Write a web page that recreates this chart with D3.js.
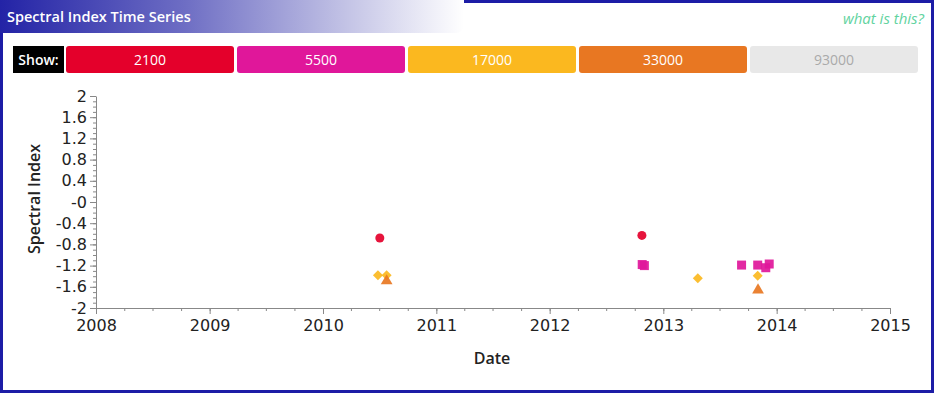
<!DOCTYPE html>
<html lang="en">
<head>
<meta charset="utf-8">
<title>Spectral Index Time Series</title>
<style>
  html, body { margin: 0; padding: 0; background: #fff; }
  body { width: 934px; height: 393px; position: relative; overflow: hidden; font-family: "Open Sans", "Lato", sans-serif; }
  .frame { position: absolute; left: 0; top: 0; width: 928px; height: 387px; border: 3px solid #1c1ca6; }
  .title { position: absolute; left: 0; top: 0; width: 464px; height: 33px;
    background: linear-gradient(to right, #2323a6 0%, #6e6ec4 40%, #c4c4e6 75%, #ffffff 100%);
    border-bottom-right-radius: 8px; color: #fff; font-weight: 600; font-size: 14.5px; line-height: 33px; padding-left: 7px; box-sizing: border-box; }
  .what { position: absolute; right: 10px; top: 8px; font-size: 15px; font-style: italic; color: #62d3a0; }
  .show { position: absolute; left: 13px; top: 46px; height: 27px; width: 51px; background: #000; color: #fff; font-weight: 600; font-size: 14px; line-height: 27px; text-align: center; }
  .btn { position: absolute; top: 46px; height: 27px; width: 168px; border-radius: 3px; color: #fff; font-size: 14px; line-height: 27px; text-align: center; }
  svg { position: absolute; left: 0; top: 0; }
  .axis path, .axis line { stroke: #888; }
  .label { font-family: "Open Sans", sans-serif; font-weight: 600; font-size: 16px; fill: #222; }
</style>
</head>
<body>
<div class="frame"></div>
<div class="title">Spectral Index Time Series</div>
<div class="what">what is this?</div>
<div class="show">Show:</div>
<div id="buttons"></div>
<svg id="chart" width="934" height="393"></svg>

<script src="https://d3js.org/d3.v7.min.js"></script>
<script>
  // bands / series
  var bands = ["2100", "5500", "17000", "33000", "93000"];
  var bandColors = ["#e4002b", "#e0179a", "#fbb81f", "#e87722", "#e8e8e8"];
  var bandText = ["#fff", "#fff", "#fff", "#fff", "#aaa"];
  var bandShapes = ["circle", "square", "diamond", "triangle", "cross"];

  var dates2100 = ["2010-07-03", "2012-10-24"];
  var vals2100 = [-0.68, -0.63];

  var dates5500 = ["2012-10-25", "2012-11-01", "2013-09-10", "2013-11-01", "2013-11-27", "2013-12-08"];
  var vals5500 = [-1.18, -1.20, -1.19, -1.19, -1.24, -1.17];

  var dates17000 = ["2010-06-27", "2010-07-25", "2013-04-22", "2013-11-01"];
  var vals17000 = [-1.38, -1.38, -1.44, -1.39];

  var dates33000 = ["2010-07-25", "2013-11-02"];
  var vals33000 = [-1.49, -1.66];

  var dates93000 = [];
  var vals93000 = [];

  var yTicks = [2, 1.6, 1.2, 0.8, 0.4, 0, -0.4, -0.8, -1.2, -1.6, -2];
  var yTickLabels = ["2", "1.6", "1.2", "0.8", "0.4", "-0", "-0.4", "-0.8", "-1.2", "-1.6", "-2"];

  var series = [
    { band: 0, dates: dates2100, vals: vals2100 },
    { band: 1, dates: dates5500, vals: vals5500 },
    { band: 2, dates: dates17000, vals: vals17000 },
    { band: 3, dates: dates33000, vals: vals33000 },
    { band: 4, dates: dates93000, vals: vals93000 }
  ];

  // buttons
  var btnLeft = 66, btnW = 168, btnGap = 3;
  d3.select("#buttons").selectAll(".btn")
    .data(bands)
    .enter().append("div")
      .attr("class", "btn")
      .style("left", function(d, i) { return (btnLeft + i * (btnW + btnGap)) + "px"; })
      .style("background", function(d, i) { return bandColors[i]; })
      .style("color", function(d, i) { return bandText[i]; })
      .text(function(d) { return d; });

  var parse = d3.timeParse("%Y-%m-%d");

  var x = d3.scaleTime()
    .domain([new Date(2008, 0, 1), new Date(2015, 0, 1)])
    .range([96, 890]);

  var y = d3.scaleLinear()
    .domain([-2, 2])
    .range([308, 96]);

  var svg = d3.select("#chart");

  // minor ticks
  svg.append("g")
    .attr("class", "axis")
    .attr("transform", "translate(0,308)")
    .call(d3.axisBottom(x).ticks(d3.timeMonth.every(3)).tickSize(3).tickFormat(""))
    .select(".domain").remove();

  svg.append("g")
    .attr("class", "axis")
    .attr("transform", "translate(96,0)")
    .call(d3.axisLeft(y).tickValues(d3.range(-20, 21).map(function(v) { return v / 10; })).tickSize(3).tickFormat(""))
    .select(".domain").remove();

  // major axes
  var xAxis = svg.append("g")
    .attr("class", "axis")
    .attr("transform", "translate(0,308)")
    .call(d3.axisBottom(x).ticks(d3.timeYear.every(1)).tickSize(6).tickSizeOuter(0).tickPadding(6).tickFormat(d3.timeFormat("%Y")));

  var yAxis = svg.append("g")
    .attr("class", "axis")
    .attr("transform", "translate(96,0)")
    .call(d3.axisLeft(y).tickValues(yTicks).tickSize(6).tickSizeOuter(0).tickPadding(3)
      .tickFormat(function(d, i) { return yTickLabels[i]; }));

  [xAxis, yAxis].forEach(function(g) {
    g.attr("font-family", "'DejaVu Sans', Verdana, sans-serif").attr("font-size", 16);
    g.selectAll("text").attr("fill", "#222");
  });

  // axis labels
  svg.append("text")
    .attr("class", "label")
    .attr("text-anchor", "middle")
    .attr("transform", "translate(40,199) rotate(-90)")
    .text("Spectral Index");

  svg.append("text")
    .attr("class", "label")
    .attr("text-anchor", "middle")
    .attr("x", 492)
    .attr("y", 364)
    .text("Date");

  var diamond = {
    draw: function(ctx, size) {
      var r = Math.sqrt(size) / 2;
      ctx.moveTo(0, -r); ctx.lineTo(r, 0); ctx.lineTo(0, r); ctx.lineTo(-r, 0); ctx.closePath();
    }
  };
  var symbolTypes = {
    circle: d3.symbolCircle,
    square: d3.symbolSquare,
    diamond: diamond,
    triangle: d3.symbolTriangle,
    cross: d3.symbolCross
  };
  var symbolSizes = { circle: 64, square: 81, diamond: 100, triangle: 60, cross: 50 };

  series.forEach(function(s) {
    var shape = bandShapes[s.band];
    var sym = d3.symbol().type(symbolTypes[shape]).size(symbolSizes[shape]);
    svg.append("g").selectAll("path")
      .data(s.dates.map(function(d, i) { return { date: parse(d), value: s.vals[i] }; }))
      .enter().append("path")
        .attr("d", sym)
        .attr("transform", function(d) { return "translate(" + x(d.date) + "," + y(d.value) + ")"; })
        .attr("fill", bandColors[s.band])
        .attr("fill-opacity", 0.92);
  });
</script>
</body>
</html>
